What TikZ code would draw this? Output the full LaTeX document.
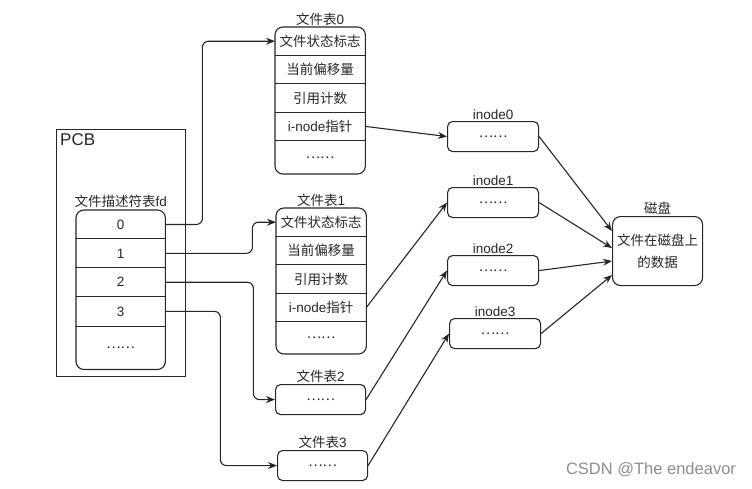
\documentclass[tikz,border=0pt]{standalone}
\usepackage{fontspec}
\setmainfont{Liberation Sans}
\newfontfamily\cjk{Noto Sans CJK SC}
\usetikzlibrary{positioning,fit,arrows.meta}

\begin{document}
\begin{tikzpicture}[
    x=1pt, y=1pt,
    color=black!85,
    every node/.style = {font=\fontsize{13.5}{22}\selectfont},
    cell/.style = {minimum width=90pt, minimum height=28pt, inner sep=0pt},
    dotcell/.style = {cell, minimum height=33pt},
    frame/.style = {draw, line width=1.1pt, rounded corners=8pt, inner sep=0pt},
    box/.style = {draw, line width=1.1pt, rounded corners=5pt, minimum width=90pt, minimum height=30pt, inner sep=0pt},
    title/.style = {inner sep=1pt},
    link/.style = {-{Stealth[length=9pt, width=7pt]}, line width=1.1pt},
    elbow/.style = {link, rounded corners=6pt}
    ]
    \useasboundingbox (0,0) rectangle (752,-488);

    % PCB with the fd table
    \node[draw, line width=0.8pt, minimum width=129pt, minimum height=247pt, anchor=north west] (pcb) at (56,-129) {};
    \node[anchor=north west, inner sep=4pt, font=\fontsize{17}{20}\selectfont] (pcb-name) at (pcb.north west) {PCB};
    \node[cell, minimum width=89pt, minimum height=28.5pt, anchor=north west] (f0) at (76,-210) {0};
    \node[cell, minimum width=89pt, minimum height=28.5pt, below=0pt of f0] (f1) {1};
    \node[cell, minimum width=89pt, minimum height=28.5pt, below=0pt of f1] (f2) {2};
    \node[cell, minimum width=89pt, minimum height=29pt, below=0pt of f2] (f3) {3};
    \node[cell, minimum width=89pt, minimum height=43pt, below=0pt of f3] (f4) {{\cjk ……}};
    \node[frame, fit=(f0)(f4)] (fd) {};
    \node[title, above=1pt of fd] (fd-name) {{\cjk 文件描述符表}fd};
    \foreach \r in {f0,f1,f2,f3} \draw[line width=1.1pt] (\r.south west) -- (\r.south east);

    % file table 0
    \node[cell, anchor=north west] (a0) at (275,-27) {{\cjk 文件状态标志}};
    \node[cell, below=0pt of a0] (a1) {{\cjk 当前偏移量}};
    \node[cell, below=0pt of a1] (a2) {{\cjk 引用计数}};
    \node[cell, below=0pt of a2] (a3) {i-node{\cjk 指针}};
    \node[dotcell, below=0pt of a3] (a4) {{\cjk ……}};
    \node[frame, fit=(a0)(a4)] (tab0) {};
    \node[title, above=0pt of tab0] (tab0-name) {{\cjk 文件表}0};
    \foreach \r in {a0,a1,a2,a3} \draw[line width=1.1pt] (\r.south west) -- (\r.south east);

    % file table 1
    \node[cell, anchor=north west] (b0) at (276,-208) {{\cjk 文件状态标志}};
    \node[cell, below=0pt of b0] (b1) {{\cjk 当前偏移量}};
    \node[cell, below=0pt of b1] (b2) {{\cjk 引用计数}};
    \node[cell, below=0pt of b2] (b3) {i-node{\cjk 指针}};
    \node[dotcell, minimum height=32pt, below=0pt of b3] (b4) {{\cjk ……}};
    \node[frame, fit=(b0)(b4)] (tab1) {};
    \node[title, above=0pt of tab1] (tab1-name) {{\cjk 文件表}1};
    \foreach \r in {b0,b1,b2,b3} \draw[line width=1.1pt] (\r.south west) -- (\r.south east);

    % file tables 2 and 3
    \node[box, anchor=north west] (tab2) at (275,-384) {{\cjk ……}};
    \node[title, above=0pt of tab2] (tab2-name) {{\cjk 文件表}2};
    \node[box, anchor=north west] (tab3) at (277,-450) {{\cjk ……}};
    \node[title, above=0pt of tab3] (tab3-name) {{\cjk 文件表}3};

    % inodes
    \node[box, minimum width=91pt, anchor=north west] (inode0) at (447,-121) {{\cjk ……}};
    \node[title, above=0pt of inode0] (inode0-name) {inode0};
    \node[box, minimum width=91pt, anchor=north west] (inode1) at (447,-187) {{\cjk ……}};
    \node[title, above=0pt of inode1] (inode1-name) {inode1};
    \node[box, minimum width=91pt, anchor=north west] (inode2) at (447,-255) {{\cjk ……}};
    \node[title, above=0pt of inode2] (inode2-name) {inode2};
    \node[box, minimum width=91pt, anchor=north west] (inode3) at (449,-318) {{\cjk ……}};
    \node[title, above=0pt of inode3] (inode3-name) {inode3};

    % disk
    \node[box, rounded corners=8pt, minimum height=69pt, align=center, anchor=north west,
          font=\cjk\fontsize{13.5}{22}\selectfont] (disk) at (612,-216) {文件在磁盘上\\的数据};
    \node[title, font=\cjk\fontsize{13.5}{22}\selectfont, above=0pt of disk] (disk-name) {磁盘};

    \node[text=black!45, font=\fontsize{16.5}{18}\selectfont] (mark) at (651,-470) {CSDN @The endeavor};

    \draw[elbow] (f0.east) -- ++(37,0) |- (a0.west);
    \draw[elbow] (f1.east) -- ++(87,0) |- (b0.west);
    \draw[elbow] (f2.east) -- ++(88,0) |- (tab2.west);
    \draw[elbow] (f3.east) -- ++(55,0) |- (tab3.west);
    \draw[link] (a3.east) -- (inode0.west);
    \draw[link] (b3.east) -- (inode1.west);
    \draw[link] (tab2.east) -- (inode2.west);
    \draw[link] (tab3.east) -- (inode3.west);
    \draw[link] (inode0.east) -- ([yshift=20pt]disk.west);
    \draw[link] (inode1.east) -- ([yshift=3pt]disk.west);
    \draw[link] (inode2.east) -- ([yshift=-10pt]disk.west);
    \draw[link] (inode3.east) -- ([yshift=-24pt]disk.west);
  \end{tikzpicture}
\end{document}
